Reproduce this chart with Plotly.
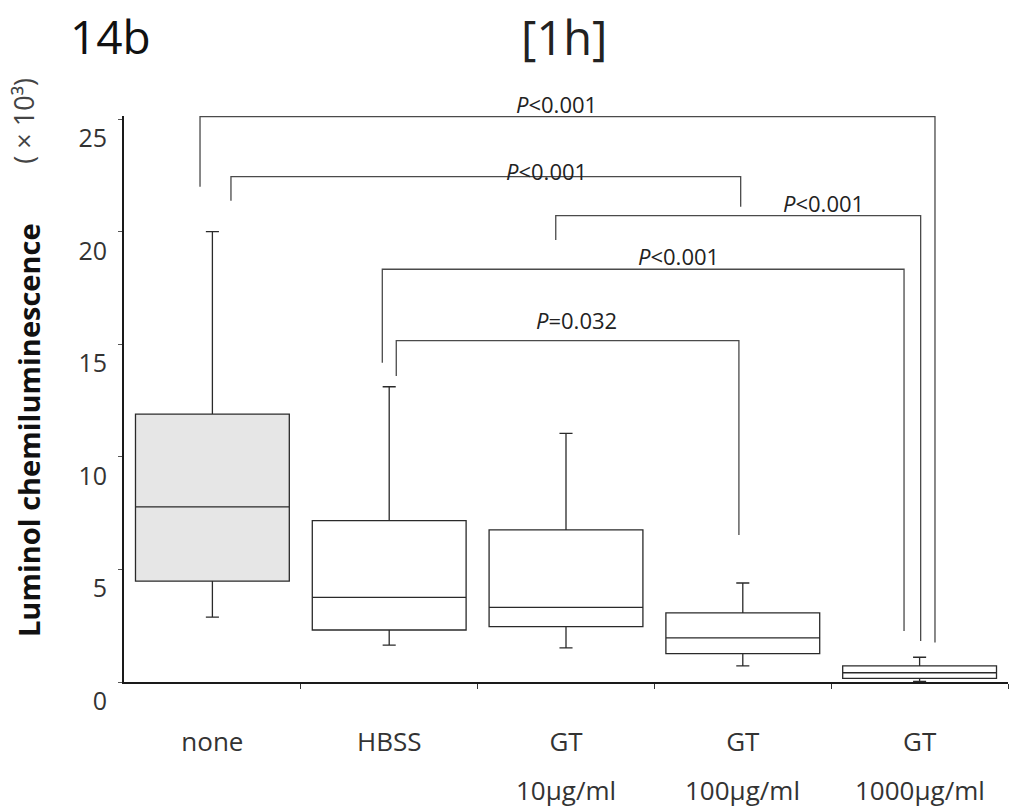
import plotly.graph_objects as go

# ---------------- data ----------------
categories = ["none", "HBSS", "GT", "GT", "GT"]
doses = ["", "", "10μg/ml", "100μg/ml", "1000μg/ml"]
upper_whisker = [20.01, 13.12, 11.05, 4.40, 1.10]
q3_values = [11.90, 7.17, 6.76, 3.07, 0.72]
median_values = [7.78, 3.76, 3.32, 1.96, 0.41]
q1_values = [4.48, 2.31, 2.46, 1.26, 0.16]
lower_whisker = [2.88, 1.64, 1.52, 0.72, 0.03]
y_ticks = [0, 5, 10, 15, 20, 25]
p_labels = ["<i>P</i>&lt;0.001", "<i>P</i>&lt;0.001", "<i>P</i>&lt;0.001",
            "<i>P</i>&lt;0.001", "<i>P</i>=0.032"]

# bracket geometry (annotation layout, data coordinates)
brackets = [
    dict(x0=-0.07, x1=4.087, y=25.12, b0=22.01, b1=1.76, tx=1.949, ty=25.69),
    dict(x0=0.105, x1=2.988, y=22.46, b0=21.38, b1=21.12, tx=1.887, ty=22.71),
    dict(x0=1.942, x1=4.006, y=20.72, b0=19.64, b1=1.82, tx=3.454, ty=21.29),
    dict(x0=0.961, x1=3.912, y=18.34, b0=14.19, b1=2.27, tx=2.639, ty=18.93),
    dict(x0=1.040, x1=2.978, y=15.17, b0=13.60, b1=6.53, tx=2.062, ty=16.09),
]

FONT = "Open Sans"
Y_MAX = 25.15
fills = ["#e6e6e6", "white", "white", "white", "white"]

fig = go.Figure()
for i in range(len(categories)):
    fig.add_trace(go.Box(
        x=[i], q1=[q1_values[i]], median=[median_values[i]], q3=[q3_values[i]],
        lowerfence=[lower_whisker[i]], upperfence=[upper_whisker[i]],
        width=0.87, whiskerwidth=0.085, boxpoints=False,
        fillcolor=fills[i], line=dict(color="#2a2a2a", width=1.3),
        showlegend=False, hoverinfo="skip",
    ))

for br, lab in zip(brackets, p_labels):
    path = (f"M {br['x0']},{br['b0']} L {br['x0']},{br['y']} "
            f"L {br['x1']},{br['y']} L {br['x1']},{br['b1']}")
    fig.add_shape(type="path", path=path, xref="x", yref="y",
                  line=dict(color="#4a4a4a", width=1.3))
    fig.add_annotation(x=br["tx"], y=br["ty"] / Y_MAX, xref="x", yref="paper", text=lab,
                       showarrow=False, font=dict(family=FONT, size=22, color="#222"),
                       xanchor="center", yanchor="middle")

for i, d in enumerate(doses):
    if d:
        fig.add_annotation(x=i, y=-0.1908, xref="x", yref="paper", text=d,
                           showarrow=False, font=dict(family=FONT, size=26, color="#333"),
                           xanchor="center", yanchor="middle")

fig.add_annotation(x=-0.1086, y=0.4452, xref="paper", yref="paper",
                   text="<b>Luminol chemiluminescence</b>", textangle=-90,
                   showarrow=False, font=dict(family=FONT, size=29, color="#111"),
                   xanchor="center", yanchor="middle")
fig.add_annotation(x=-0.1135, y=0.9912, xref="paper", yref="paper",
                   text="( × 10³)", textangle=-90,
                   showarrow=False, font=dict(family=FONT, size=27, color="#444"),
                   xanchor="center", yanchor="middle")
fig.add_annotation(x=-0.0158, y=1.1413, xref="paper", yref="paper", text="14b",
                   showarrow=False, font=dict(family=FONT, size=46, color="#111"),
                   xanchor="center", yanchor="middle")
fig.add_annotation(x=0.4977, y=1.1396, xref="paper", yref="paper", text="[1h]",
                   showarrow=False, font=dict(family=FONT, size=47, color="#222"),
                   xanchor="center", yanchor="middle")

fig.update_layout(
    width=1011, height=812,
    margin=dict(l=124, r=3, t=116, b=130),
    paper_bgcolor="white", plot_bgcolor="white",
    boxmode="overlay",
    font=dict(family=FONT, color="#333"),
    xaxis=dict(
        range=[-0.5, 4.5], tickvals=list(range(len(categories))), ticktext=categories,
        ticks="", showgrid=False, zeroline=False,
        showline=True, linecolor="#1a1a1a", linewidth=2,
        tickfont=dict(family=FONT, size=26, color="#333"),
        ticklabelstandoff=36,
        minor=dict(tickvals=[0.5, 1.5, 2.5, 3.5, 4.5], ticks="outside",
                   ticklen=5, tickwidth=1, tickcolor="#333"),
    ),
    yaxis=dict(
        range=[0, Y_MAX], tickvals=y_ticks, ticks="outside", ticklen=4,
        tickwidth=1, tickcolor="#555", showgrid=False, zeroline=False,
        showline=True, linecolor="#1a1a1a", linewidth=2,
        tickfont=dict(family=FONT, size=25, color="#333"),
        ticklabelshift=19, ticklabelstandoff=6,
    ),
)

fig.write_html("out.html", config={"displayModeBar": False},
               post_script="document.body.style.margin='0';")
